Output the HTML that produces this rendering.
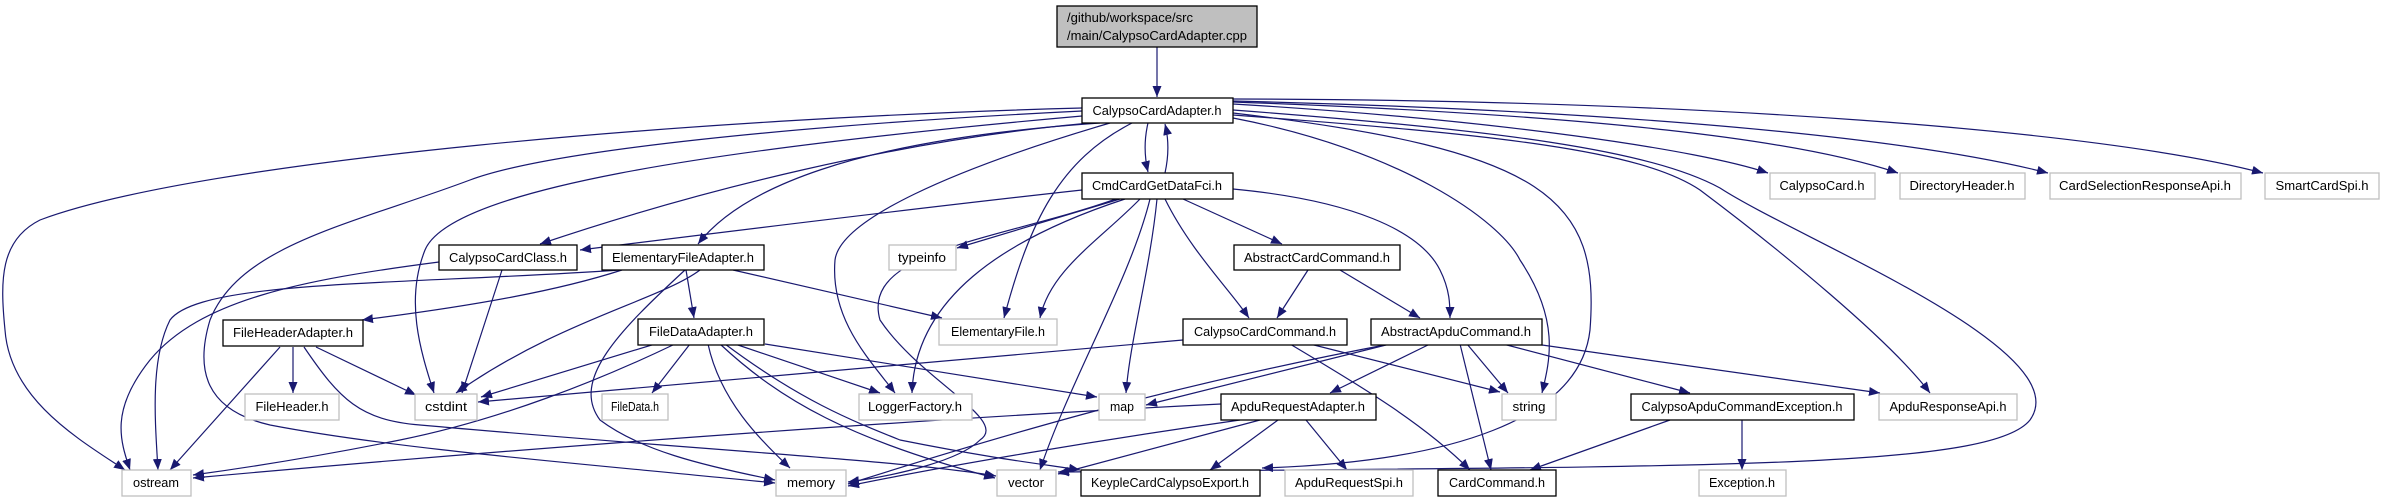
<!DOCTYPE html>
<html><head><meta charset="utf-8"><style>
html,body{margin:0;padding:0;background:#fff;width:2383px;height:500px;overflow:hidden}
svg text{font-family:"Liberation Sans",sans-serif;font-size:13px;fill:#000}
</style></head><body>
<svg width="2383" height="500" viewBox="0 0 2383 500" xmlns="http://www.w3.org/2000/svg">
<defs><marker id="a" markerUnits="userSpaceOnUse" markerWidth="12" markerHeight="10" refX="11" refY="4.5" orient="auto"><path d="M0,0 L11,4.5 L0,9 z" fill="#191970"/></marker></defs>
<g fill="none" stroke="#191970" stroke-width="1.2" marker-end="url(#a)">
<path d="M1157,47 L1157,97"/>
<path d="M1082,108 C700,118 200,160 40,220 C0,240 0,280 5,330 C10,400 80,440 125,470"/>
<path d="M1082,111 C800,125 550,150 470,180 C350,225 240,245 210,320 C195,370 205,410 270,425 C400,450 600,465 775,483"/>
<path d="M1082,116 C700,150 450,190 425,250 C405,300 420,350 434,393"/>
<path d="M1090,123 C900,140 700,190 540,244"/>
<path d="M1100,123 C850,140 740,190 698,244"/>
<path d="M1148,123 C1144,140 1144,155 1148,172"/>
<path d="M1165,173 C1169,155 1169,140 1165,124"/>
<path d="M1132,123 C1060,160 1030,220 1004,318"/>
<path d="M1110,123 C950,170 840,220 835,260 C830,320 870,360 895,393"/>
<path d="M1233,118 C1400,150 1500,220 1520,260 C1560,320 1550,360 1542,393"/>
<path d="M1233,115 C1500,135 1640,150 1700,190 C1780,250 1890,340 1930,393"/>
<path d="M1233,113 C1550,150 1600,200 1590,330 C1580,420 1450,462 1262,468"/>
<path d="M1233,110 C1500,130 1650,150 1720,188 C1800,240 2080,350 2030,420 C1990,470 1700,466 1058,472"/>
<path d="M1233,104 C1500,120 1700,150 1768,173"/>
<path d="M1233,102 C1600,115 1800,140 1898,173"/>
<path d="M1233,101 C1600,110 1900,135 2048,173"/>
<path d="M1233,99 C1700,100 2100,130 2263,173"/>
<path d="M1082,190 C900,210 700,235 580,250"/>
<path d="M1120,199 L957,248"/>
<path d="M1125,199 C1000,240 915,300 912,393"/>
<path d="M1116,199 C1000,240 860,250 880,320 C920,380 1010,420 980,440 C960,460 900,475 848,482"/>
<path d="M1150,199 C1130,280 1070,380 1040,470"/>
<path d="M1157,199 C1150,270 1130,340 1126,393"/>
<path d="M1165,199 C1190,250 1230,290 1249,318"/>
<path d="M1183,199 L1282,244"/>
<path d="M1233,189 C1350,200 1420,230 1440,270 C1450,290 1450,305 1450,318"/>
<path d="M1140,199 C1100,240 1050,270 1040,318"/>
<path d="M439,262 C300,280 200,300 150,360 C110,410 120,440 130,470"/>
<path d="M502,270 L462,393"/>
<path d="M620,270 C400,285 200,280 170,320 C150,360 155,420 158,470"/>
<path d="M622,270 C560,290 480,305 362,320"/>
<path d="M700,270 C660,300 560,320 456,393"/>
<path d="M685,270 C620,330 570,380 600,420 C640,450 700,465 775,480"/>
<path d="M686,270 L694,318"/>
<path d="M733,270 L942,318"/>
<path d="M293,347 L293,393"/>
<path d="M316,347 L416,395"/>
<path d="M280,347 L170,470"/>
<path d="M304,347 C340,400 360,420 420,425 C700,450 900,460 996,476"/>
<path d="M655,344 L481,397"/>
<path d="M690,344 L652,393"/>
<path d="M735,344 L880,393"/>
<path d="M765,344 L1097,397"/>
<path d="M708,344 C720,400 760,440 790,468"/>
<path d="M720,344 C780,400 850,440 995,478"/>
<path d="M675,344 C600,380 500,420 400,440 C300,460 230,470 193,475"/>
<path d="M725,344 C800,400 850,420 900,440 C1000,460 1050,465 1080,470"/>
<path d="M1308,270 L1277,318"/>
<path d="M1340,270 L1420,318"/>
<path d="M1183,340 L478,402"/>
<path d="M1310,344 L1500,392"/>
<path d="M1290,344 C1350,380 1420,420 1470,470"/>
<path d="M1390,344 L1146,405"/>
<path d="M1390,344 C1200,380 1050,420 848,484"/>
<path d="M1467,344 L1508,393"/>
<path d="M1460,344 L1491,470"/>
<path d="M1430,344 L1330,393"/>
<path d="M1503,344 L1690,393"/>
<path d="M1535,344 L1880,393"/>
<path d="M1221,404 C900,420 500,450 193,478"/>
<path d="M1240,420 C1100,440 950,465 848,486"/>
<path d="M1260,420 L1058,474"/>
<path d="M1278,420 L1210,470"/>
<path d="M1306,420 L1347,470"/>
<path d="M1670,420 L1530,470"/>
<path d="M1742,420 L1742,470"/>
</g>
<g stroke-width="1.3" fill="#fff">
<rect x="1057" y="6" width="200" height="41" fill="#bfbfbf" stroke="#000"/>
<g stroke="#000">
<rect x="1082" y="98" width="151" height="25"/>
<rect x="1082" y="173" width="151" height="26"/>
<rect x="439" y="245" width="138" height="25"/>
<rect x="602" y="245" width="162" height="25"/>
<rect x="1234" y="245" width="166" height="25"/>
<rect x="223" y="320" width="140" height="26"/>
<rect x="638" y="319" width="126" height="26"/>
<rect x="1183" y="319" width="164" height="26"/>
<rect x="1371" y="319" width="171" height="26"/>
<rect x="1221" y="394" width="155" height="26"/>
<rect x="1631" y="394" width="223" height="26"/>
<rect x="1081" y="470" width="179" height="26"/>
<rect x="1438" y="470" width="118" height="26"/>
</g>
<g stroke="#bfbfbf">
<rect x="1770" y="173" width="105" height="26"/>
<rect x="1900" y="173" width="125" height="26"/>
<rect x="2050" y="173" width="191" height="26"/>
<rect x="2265" y="173" width="114" height="26"/>
<rect x="889" y="245" width="67" height="25"/>
<rect x="939" y="319" width="118" height="26"/>
<rect x="245" y="394" width="94" height="26"/>
<rect x="415" y="394" width="62" height="26"/>
<rect x="602" y="394" width="66" height="26"/>
<rect x="859" y="394" width="113" height="26"/>
<rect x="1099" y="394" width="46" height="26"/>
<rect x="1502" y="394" width="54" height="26"/>
<rect x="1879" y="394" width="138" height="26"/>
<rect x="122" y="470" width="69" height="26"/>
<rect x="776" y="470" width="70" height="26"/>
<rect x="997" y="470" width="59" height="26"/>
<rect x="1285" y="470" width="128" height="26"/>
<rect x="1699" y="470" width="87" height="26"/>
</g>
</g>
<g text-anchor="middle">
<text x="1067" y="22" text-anchor="start" textLength="126" lengthAdjust="spacingAndGlyphs">/github/workspace/src</text>
<text x="1157" y="40" textLength="180" lengthAdjust="spacingAndGlyphs">/main/CalypsoCardAdapter.cpp</text>
<text x="1157" y="115" textLength="129" lengthAdjust="spacingAndGlyphs">CalypsoCardAdapter.h</text>
<text x="1157" y="190" textLength="130" lengthAdjust="spacingAndGlyphs">CmdCardGetDataFci.h</text>
<text x="1822" y="190" textLength="85" lengthAdjust="spacingAndGlyphs">CalypsoCard.h</text>
<text x="1962" y="190" textLength="105" lengthAdjust="spacingAndGlyphs">DirectoryHeader.h</text>
<text x="2145" y="190" textLength="172" lengthAdjust="spacingAndGlyphs">CardSelectionResponseApi.h</text>
<text x="2322" y="190" textLength="93" lengthAdjust="spacingAndGlyphs">SmartCardSpi.h</text>
<text x="508" y="262" textLength="118" lengthAdjust="spacingAndGlyphs">CalypsoCardClass.h</text>
<text x="683" y="262" textLength="142" lengthAdjust="spacingAndGlyphs">ElementaryFileAdapter.h</text>
<text x="922" y="262" textLength="48" lengthAdjust="spacingAndGlyphs">typeinfo</text>
<text x="1317" y="262" textLength="146" lengthAdjust="spacingAndGlyphs">AbstractCardCommand.h</text>
<text x="293" y="337" textLength="120" lengthAdjust="spacingAndGlyphs">FileHeaderAdapter.h</text>
<text x="701" y="336" textLength="104" lengthAdjust="spacingAndGlyphs">FileDataAdapter.h</text>
<text x="998" y="336" textLength="94" lengthAdjust="spacingAndGlyphs">ElementaryFile.h</text>
<text x="1265" y="336" textLength="142" lengthAdjust="spacingAndGlyphs">CalypsoCardCommand.h</text>
<text x="1456" y="336" textLength="150" lengthAdjust="spacingAndGlyphs">AbstractApduCommand.h</text>
<text x="292" y="411" textLength="73" lengthAdjust="spacingAndGlyphs">FileHeader.h</text>
<text x="446" y="411" textLength="42" lengthAdjust="spacingAndGlyphs">cstdint</text>
<text x="635" y="411" textLength="48" lengthAdjust="spacingAndGlyphs">FileData.h</text>
<text x="915" y="411" textLength="94" lengthAdjust="spacingAndGlyphs">LoggerFactory.h</text>
<text x="1122" y="411" textLength="24" lengthAdjust="spacingAndGlyphs">map</text>
<text x="1298" y="411" textLength="134" lengthAdjust="spacingAndGlyphs">ApduRequestAdapter.h</text>
<text x="1529" y="411" textLength="33" lengthAdjust="spacingAndGlyphs">string</text>
<text x="1742" y="411" textLength="201" lengthAdjust="spacingAndGlyphs">CalypsoApduCommandException.h</text>
<text x="1948" y="411" textLength="117" lengthAdjust="spacingAndGlyphs">ApduResponseApi.h</text>
<text x="156" y="487" textLength="46" lengthAdjust="spacingAndGlyphs">ostream</text>
<text x="811" y="487" textLength="48" lengthAdjust="spacingAndGlyphs">memory</text>
<text x="1026" y="487" textLength="36" lengthAdjust="spacingAndGlyphs">vector</text>
<text x="1170" y="487" textLength="158" lengthAdjust="spacingAndGlyphs">KeypleCardCalypsoExport.h</text>
<text x="1349" y="487" textLength="108" lengthAdjust="spacingAndGlyphs">ApduRequestSpi.h</text>
<text x="1497" y="487" textLength="96" lengthAdjust="spacingAndGlyphs">CardCommand.h</text>
<text x="1742" y="487" textLength="66" lengthAdjust="spacingAndGlyphs">Exception.h</text>
</g>
</svg>
</body></html>
